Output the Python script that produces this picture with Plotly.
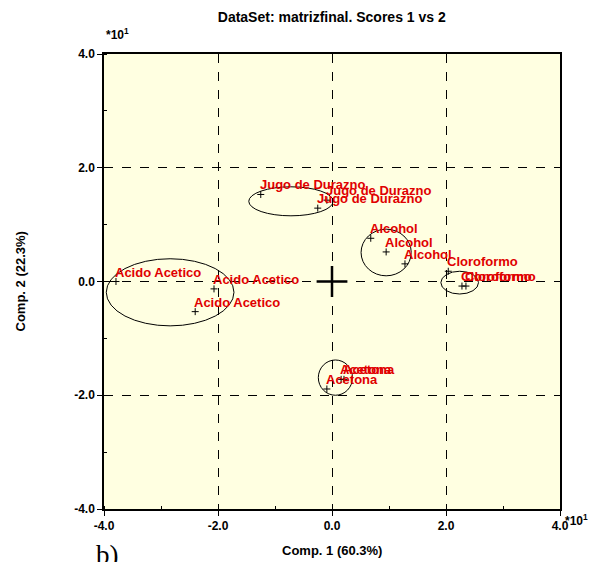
import plotly.graph_objects as go

# ---- data (displayed units, x10^1) ----
groups = ["Acido Acetico", "Jugo de Durazno", "Alcohol", "Cloroformo", "Acetona"]
acido_x = [-3.79, -2.07, -2.40]
acido_y = [0.00, -0.13, -0.53]
jugo_x = [-1.25, -0.09, -0.25]
jugo_y = [1.53, 1.43, 1.29]
alcohol_x = [0.68, 0.95, 1.28]
alcohol_y = [0.76, 0.52, 0.31]
cloro_x = [2.04, 2.28, 2.35]
cloro_y = [0.18, -0.08, -0.08]
acetona_x = [-0.09, 0.16, 0.21]
acetona_y = [-1.89, -1.72, -1.72]

# confidence ellipses: center x, center y, semi-axis x, semi-axis y
ell_cx = [-2.84, -0.72, 0.95, 2.24, 0.06]
ell_cy = [-0.19, 1.41, 0.51, -0.02, -1.69]
ell_rx = [1.12, 0.74, 0.44, 0.33, 0.30]
ell_ry = [0.59, 0.255, 0.41, 0.20, 0.31]

tick_vals = [-4, -2, 0, 2, 4]
tick_text = ["-4.0", "-2.0", "0.0", "2.0", "4.0"]

xs = [acido_x, jugo_x, alcohol_x, cloro_x, acetona_x]
ys = [acido_y, jugo_y, alcohol_y, cloro_y, acetona_y]

FONT = "Arial, Liberation Sans, sans-serif"
fig = go.Figure()

annotations = []
for name, gx, gy in zip(groups, xs, ys):
    fig.add_trace(go.Scatter(
        x=gx, y=gy, mode="markers",
        marker=dict(symbol="cross-thin", size=5, line=dict(color="black", width=1)),
        showlegend=False, cliponaxis=False,
    ))
    for px_, py_ in zip(gx, gy):
        annotations.append(dict(
            text=name, x=px_, y=py_, xref="x", yref="y",
            xanchor="left", yanchor="bottom", xshift=-3, yshift=0,
            showarrow=False,
            font=dict(family=FONT, size=13, color="#E00000", weight="bold"),
        ))

# origin cross
fig.add_trace(go.Scatter(
    x=[0], y=[0], mode="markers",
    marker=dict(symbol="cross-thin", size=22, line=dict(color="black", width=2.5)),
    showlegend=False,
))

for cx, cy, rx, ry in zip(ell_cx, ell_cy, ell_rx, ell_ry):
    fig.add_shape(type="circle", xref="x", yref="y",
                  x0=cx - rx, x1=cx + rx, y0=cy - ry, y1=cy + ry,
                  line=dict(color="black", width=1))

axis_common = dict(
    range=[-4, 4], tickvals=tick_vals, ticktext=tick_text,
    showgrid=True, gridcolor="black", griddash="dash", gridwidth=1,
    zeroline=False, showline=True, linecolor="black", linewidth=1.5, mirror=True,
    ticks="outside", ticklen=5, tickcolor="black",
    minor=dict(dtick=1, tick0=0, ticks="inside", ticklen=3, tickcolor="black", showgrid=False),
    tickfont=dict(family=FONT, size=12, color="black", weight="bold"),
)
fig.update_xaxes(**axis_common)
fig.update_yaxes(**axis_common)

annotations += [
    dict(text="Comp. 1 (60.3%)", xref="paper", yref="paper", x=0.5, y=0,
         xanchor="center", yanchor="middle", yshift=-41, showarrow=False,
         font=dict(family=FONT, size=13, color="black", weight="bold")),
    dict(text="Comp. 2 (22.3%)", xref="paper", yref="paper", x=0, y=0.5,
         xanchor="center", yanchor="middle", xshift=-84, textangle=-90, showarrow=False,
         font=dict(family=FONT, size=13, color="black", weight="bold")),
    dict(text="*10<sup>1</sup>", xref="paper", yref="paper", x=0.0, y=1.0,
         xanchor="left", yanchor="middle", yshift=20, showarrow=False,
         font=dict(family=FONT, size=12, color="black", weight="bold")),
    dict(text="*10<sup>1</sup>", xref="paper", yref="paper", x=1.0, y=0.0,
         xanchor="left", yanchor="middle", xshift=3, yshift=-11, showarrow=False,
         font=dict(family=FONT, size=12, color="black", weight="bold")),
    dict(text="b)", xref="paper", yref="paper", x=0.0, y=0.0,
         xanchor="left", yanchor="top", xshift=-10, yshift=-29, showarrow=False,
         font=dict(family="Times New Roman, Liberation Serif, serif", size=27, color="black")),
]

fig.update_layout(
    width=593, height=554,
    margin=dict(l=96, r=41, t=46, b=53),
    paper_bgcolor="white", plot_bgcolor="#FFFFE1",
    title=dict(text="DataSet: matrizfinal. Scores 1 vs 2", x=0.546, xanchor="center",
               y=0.984, yanchor="middle",
               font=dict(family=FONT, size=14, color="black", weight="bold")),
    annotations=annotations,
)

fig.write_html("out.html")
